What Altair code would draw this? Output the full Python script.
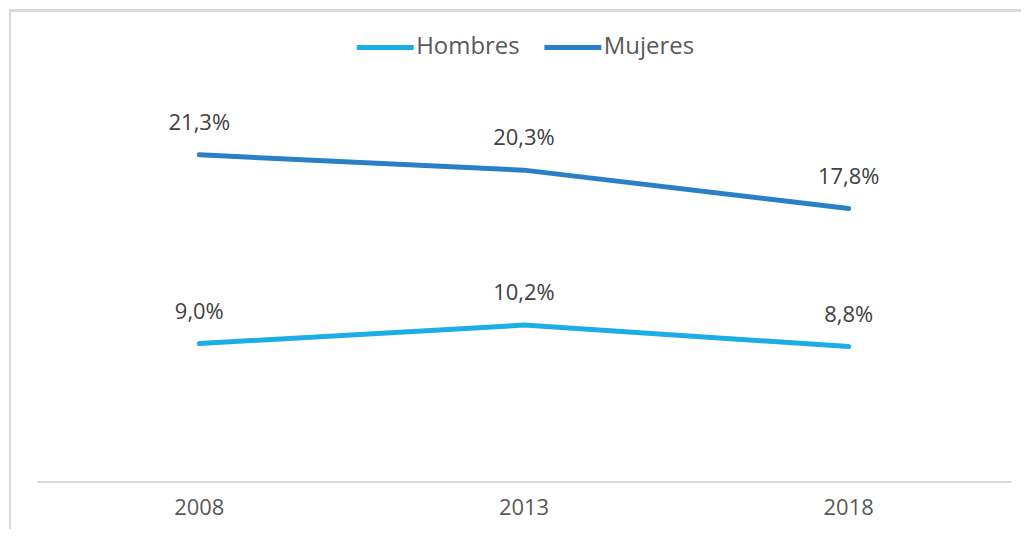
import altair as alt
import pandas as pd

years = ["2008", "2013", "2018"]
hombres = [9.0, 10.2, 8.8]
mujeres = [21.3, 20.3, 17.8]
series = ["Hombres", "Mujeres"]
colors = ["#1DADE6", "#2A80C6"]

rows = []
for name, vals in zip(series, [hombres, mujeres]):
    for y, v in zip(years, vals):
        rows.append({"year": y, "serie": name, "value": v,
                     "label": f"{v:.1f}".replace(".", ",") + "%"})
df = pd.DataFrame(rows)

FONT = "Open Sans"
W, H = 1014, 520

x = alt.X("year:N", sort=years,
          scale=alt.Scale(type="band", range=[28, 1004], paddingInner=0, paddingOuter=0),
          axis=alt.Axis(title=None, labelAngle=0, ticks=False, domainColor="#d9d9d9",
                        domainWidth=2, labelColor="#595959", labelFontSize=22,
                        labelFont=FONT, labelPadding=16, offset=-47))
y = alt.Y("value:Q", scale=alt.Scale(domain=[-3.058, 30.77], nice=False, zero=False),
          axis=None)

base = alt.Chart(df).encode(x=x, y=y)

lines = base.mark_line(strokeWidth=5, strokeCap="round").encode(
    color=alt.Color("serie:N", scale=alt.Scale(domain=series, range=colors),
                    legend=alt.Legend(title=None, orient="none", direction="horizontal",
                                      legendX=346, legendY=7, symbolType="stroke",
                                      symbolSize=3249, symbolStrokeWidth=5,
                                      labelFont=FONT, labelFontSize=24,
                                      labelColor="#595959", labelOffset=0,
                                      columnPadding=14))
)

labels = base.mark_text(dy=-32, font=FONT, fontSize=22, color="#404040",
                        baseline="middle").encode(text="label:N")

border_top = alt.Chart(df).mark_rule(color="#d9d9d9", strokeWidth=2).encode(
    x=alt.value(0), x2=alt.value(W), y=alt.value(1))
border_left = alt.Chart(df).mark_rule(color="#d9d9d9", strokeWidth=2).encode(
    x=alt.value(1), y=alt.value(0), y2=alt.value(H))

chart = alt.layer(border_top, border_left, lines, labels).properties(
    width=W, height=H, padding=0, background="white"
).configure_view(stroke="transparent", strokeWidth=0)

chart.save("out.html", embed_options={"renderer": "svg", "actions": False})
